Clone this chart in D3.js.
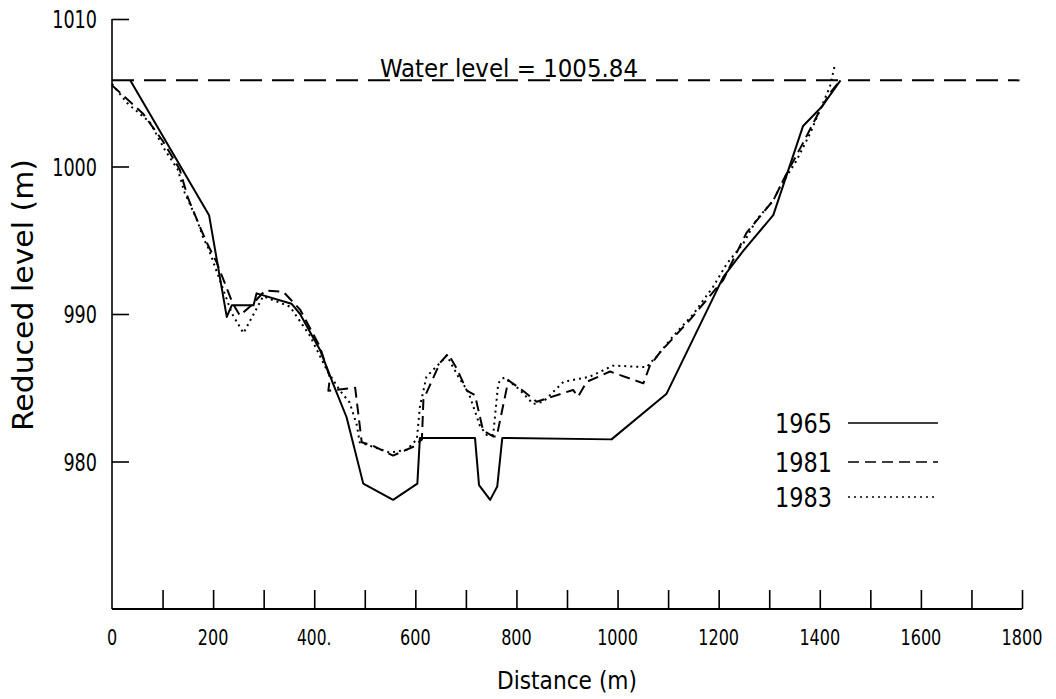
<!DOCTYPE html>
<html>
<head>
<meta charset="utf-8">
<script src="https://cdn.jsdelivr.net/npm/d3@7"></script>
<style>
  html, body { margin: 0; padding: 0; background: #fff; }
  svg text { font-family: "DejaVu Sans Condensed", "DejaVu Sans", sans-serif; font-stretch: condensed; fill: #000; }
</style>
</head>
<body>
<svg id="chart" width="1056" height="699"></svg>
<script>
// ---- data (distance m, reduced level m) ----
const years = ["1965", "1981", "1983"];
const waterLevel = 1005.84;

const dist1965 = [36, 192, 227, 237, 280, 286, 355, 372, 411, 437, 464, 497, 556, 604, 609, 718, 726, 748, 762, 772, 988, 1097, 1209, 1249, 1308, 1367, 1404, 1441];
const level1965 = [1005.84, 996.7, 989.8, 990.6, 990.6, 991.4, 990.7, 990.0, 987.6, 985.3, 983.0, 978.5, 977.4, 978.5, 981.6, 981.6, 978.4, 977.4, 978.3, 981.6, 981.5, 984.6, 992.5, 994.3, 996.7, 1002.75, 1004.05, 1005.84];

const dist1981 = [0, 61, 101, 134, 150, 174, 188, 207, 239, 253, 276, 303, 339, 372, 411, 431, 428, 481, 494, 514, 556, 596, 613, 616, 649, 665, 682, 702, 718, 734, 754, 761, 784, 813, 840, 912, 922, 939, 985, 1051, 1064, 1084, 1143, 1209, 1255, 1308, 1331, 1367, 1400, 1420, 1440];
const level1981 = [1005.5, 1003.6, 1001.7, 999.8, 997.9, 995.9, 994.8, 993.5, 990.7, 989.9, 990.6, 991.6, 991.5, 990.3, 987.8, 985.7, 984.8, 985.0, 981.3, 981.1, 980.4, 981.0, 981.5, 984.2, 986.7, 987.3, 986.3, 984.8, 984.5, 982.1, 981.7, 981.7, 985.5, 984.8, 984.05, 984.85, 984.4, 985.4, 986.1, 985.3, 986.5, 987.4, 989.6, 992.3, 995.5, 997.7, 999.3, 1001.6, 1003.8, 1004.96, 1005.84];

const dist1983 = [0, 30, 75, 105, 130, 144, 168, 180, 190, 237, 260, 299, 352, 392, 425, 451, 470, 484, 490, 550, 583, 603, 609, 622, 655, 662, 685, 705, 728, 741, 754, 764, 771, 777, 807, 833, 853, 893, 945, 991, 1058, 1064, 1077, 1110, 1150, 1189, 1216, 1249, 1275, 1308, 1321, 1354, 1381, 1400, 1420, 1430];
const level1983 = [1005.6, 1004.3, 1003.0, 1001.1, 999.8, 998.2, 996.4, 995.2, 994.5, 990.05, 988.7, 991.2, 990.5, 988.5, 986.2, 984.8, 984.0, 982.5, 981.3, 980.6, 980.8, 981.5, 983.7, 985.75, 986.9, 987.2, 985.75, 984.7, 982.4, 981.8, 981.8, 985.3, 985.6, 985.7, 984.85, 983.9, 984.05, 985.4, 985.75, 986.5, 986.4, 986.66, 987.1, 988.5, 990.0, 991.85, 993.4, 994.8, 996.4, 997.7, 998.6, 1000.4, 1002.25, 1003.8, 1005.4, 1006.9];

const xTickValues = [100, 200, 300, 400, 500, 600, 700, 800, 900, 1000, 1100, 1200, 1300, 1400, 1500, 1600, 1700, 1800];
const xTickLabelValues = [0, 200, 400, 600, 800, 1000, 1200, 1400, 1600, 1800];
const xTickLabels = ["0", "200", "400.", "600", "800", "1000", "1200", "1400", "1600", "1800"];
const yTickValues = [980, 990, 1000, 1010];
const yTickLabels = ["980", "990", "1000", "1010"];

// ---- drawing ----
const svg = d3.select("#chart");
const x = d3.scaleLinear().domain([0, 1800]).range([112, 1022]);
const y = d3.scaleLinear().domain([970, 1010]).range([609, 19]);

const styles = {
  "1965": { dash: null, width: 2 },
  "1981": { dash: "11,6", width: 2 },
  "1983": { dash: "2,4", width: 2 }
};

// narrow technical lettering: fix width per character
function narrow(sel, perChar) {
  sel.each(function () {
    const t = d3.select(this);
    const s = t.text().replace(/\.$/, "");
    t.attr("textLength", s.length * perChar).attr("lengthAdjust", "spacingAndGlyphs");
  });
}

// Y axis (ticks pointing inward)
const yAxis = d3.axisLeft(y)
  .tickValues(yTickValues)
  .tickSize(-17)
  .tickPadding(15)
  .tickFormat((d, i) => yTickLabels[i]);
const gy = svg.append("g").attr("transform", "translate(112,0)").call(yAxis);
gy.select(".domain").attr("d", `M0,${y(1010)}V${y(970)}`).attr("stroke", "#000").attr("stroke-width", 1.6);
gy.selectAll(".tick line").attr("stroke", "#000").attr("stroke-width", 1.6);
gy.selectAll(".tick text").attr("font-size", 24).attr("font-family", null).attr("dy", "0.36em");
narrow(gy.selectAll(".tick text"), 11.2);

// X axis (ticks pointing inward)
const xAxis = d3.axisBottom(x)
  .tickValues(xTickValues)
  .tickSize(-19)
  .tickFormat("");
const gx = svg.append("g").attr("transform", `translate(0,${y(970)})`).call(xAxis);
gx.select(".domain").attr("d", `M${x(0)},0H${x(1800)}`).attr("stroke", "#000").attr("stroke-width", 2);
gx.selectAll(".tick line").attr("stroke", "#000").attr("stroke-width", 1.6);

const xl = svg.append("g").selectAll("text")
  .data(xTickLabelValues)
  .join("text")
  .attr("x", d => x(d))
  .attr("y", y(970) + 36)
  .attr("text-anchor", "middle")
  .attr("font-size", 22)
  .text((d, i) => xTickLabels[i]);
xl.each(function (d, i) {
  const t = d3.select(this);
  const s = xTickLabels[i];
  t.attr("textLength", s.length * (s.endsWith(".") ? 8.6 : 10.2)).attr("lengthAdjust", "spacingAndGlyphs");
});

// Axis titles
svg.append("text")
  .attr("x", 567)
  .attr("y", 689)
  .attr("text-anchor", "middle")
  .attr("font-size", 25)
  .attr("textLength", 140)
  .attr("lengthAdjust", "spacingAndGlyphs")
  .text("Distance (m)");

svg.append("text")
  .attr("transform", `translate(33,${295}) rotate(-90)`)
  .attr("text-anchor", "middle")
  .attr("font-size", 28)
  .attr("textLength", 272)
  .attr("lengthAdjust", "spacingAndGlyphs")
  .text("Reduced level (m)");

// Water level
svg.append("line")
  .attr("x1", x(0)).attr("x2", x(1795))
  .attr("y1", y(waterLevel)).attr("y2", y(waterLevel))
  .attr("stroke", "#000").attr("stroke-width", 2)
  .attr("stroke-dasharray", "22,10");
svg.append("text")
  .attr("x", 380)
  .attr("y", y(waterLevel) - 3)
  .attr("font-size", 25)
  .attr("textLength", 258)
  .attr("lengthAdjust", "spacingAndGlyphs")
  .text("Water level = " + waterLevel.toFixed(2));

// Series
const series = [
  { name: "1965", d: dist1965, l: level1965 },
  { name: "1981", d: dist1981, l: level1981 },
  { name: "1983", d: dist1983, l: level1983 }
];
const line = d3.line().x(p => x(p[0])).y(p => y(p[1]));
series.forEach(s => {
  const pts = s.d.map((v, i) => [v, s.l[i]]);
  svg.append("path")
    .attr("d", line(pts))
    .attr("fill", "none")
    .attr("stroke", "#000")
    .attr("stroke-width", styles[s.name].width)
    .attr("stroke-linejoin", "round")
    .attr("stroke-dasharray", styles[s.name].dash);
});

// Legend
const legendY = [423, 462, 497];
const lg = svg.append("g");
years.forEach((yr, i) => {
  lg.append("text")
    .attr("x", 775)
    .attr("y", legendY[i])
    .attr("dy", "0.36em")
    .attr("font-size", 27)
    .attr("textLength", 57)
    .attr("lengthAdjust", "spacingAndGlyphs")
    .text(yr);
  lg.append("line")
    .attr("x1", 848).attr("x2", 938)
    .attr("y1", legendY[i]).attr("y2", legendY[i])
    .attr("stroke", "#000").attr("stroke-width", 1.6)
    .attr("stroke-dasharray", styles[yr].dash);
});
</script>
</body>
</html>
